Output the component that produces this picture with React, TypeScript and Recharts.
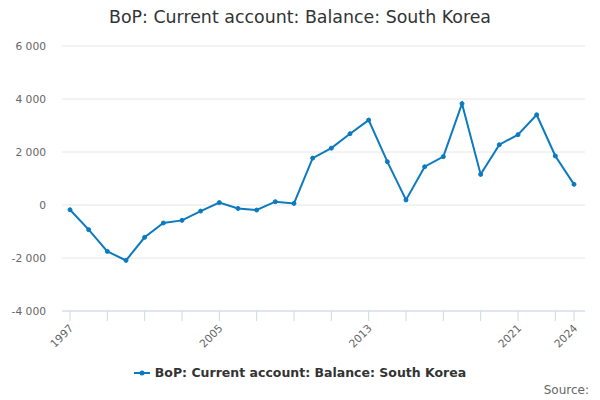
import { LineChart, Line, XAxis, YAxis, CartesianGrid, Legend } from 'recharts'

const years = [
  1997, 1998, 1999, 2000, 2001, 2002, 2003, 2004, 2005, 2006, 2007, 2008, 2009, 2010,
  2011, 2012, 2013, 2014, 2015, 2016, 2017, 2018, 2019, 2020, 2021, 2022, 2023, 2024,
]
const balance = [
  -180, -930, -1750, -2090, -1220, -680, -580, -230, 90, -130, -190, 125, 60, 1770,
  2145, 2690, 3205, 1635, 190, 1445, 1825, 3825, 1155, 2275, 2655, 3405, 1850, 780,
]
const xTicks = [1997, 1999, 2001, 2003, 2005, 2007, 2009, 2011, 2013, 2015, 2017, 2019, 2021, 2023, 2024]
const xLabels = [1997, 2005, 2013, 2021, 2024]
const yTicks = [-4000, -2000, 0, 2000, 4000, 6000]

const seriesName = 'BoP: Current account: Balance: South Korea'
const FONT = '"DejaVu Sans", Verdana, sans-serif'
const BLUE = '#0b7ac0'

const chartData = years.map((y, i) => ({ year: y, value: balance[i] }))

function formatThousands(v: number): string {
  const s = Math.abs(v).toString().replace(/\B(?=(\d{3})+(?!\d))/g, ' ')
  return v < 0 ? `-${s}` : s
}

function XTick({ x, y, payload }: any) {
  if (!xLabels.includes(payload.value)) return null
  const tx = x + 4
  const ty = y + 6
  return (
    <text
      x={tx}
      y={ty}
      transform={`rotate(-45 ${tx} ${ty})`}
      textAnchor='end'
      fill='#666'
      fontSize={10.7}
      fontFamily={FONT}
    >
      {payload.value}
    </text>
  )
}

function LegendContent() {
  return (
    <div
      style={{
        display: 'flex',
        justifyContent: 'center',
        alignItems: 'center',
        fontFamily: FONT,
        fontSize: 12.5,
        fontWeight: 'bold',
        color: '#333',
      }}
    >
      <svg width={16} height={10} style={{ marginRight: 5 }}>
        <line x1={0} y1={5} x2={16} y2={5} stroke={BLUE} strokeWidth={2} />
        <circle cx={8} cy={5} r={2.5} fill={BLUE} />
      </svg>
      {seriesName}
    </div>
  )
}

export default function App() {
  return (
    <div style={{ position: 'absolute', left: 0, top: 0, width: 600, height: 400, background: '#fff' }}>
      <div
        style={{
          position: 'absolute',
          left: 0,
          top: 7,
          width: 600,
          textAlign: 'center',
          fontFamily: FONT,
          fontSize: 17.4,
          color: '#333',
        }}
      >
        {seriesName}
      </div>
      <LineChart width={600} height={400} data={chartData} margin={{ top: 46, right: 15, left: 8, bottom: 49 }}>
        <CartesianGrid vertical={false} stroke='#e6e6e6' />
        <XAxis
          dataKey='year'
          type='number'
          domain={[1997, 2024]}
          ticks={xTicks}
          padding={{ left: 8, right: 11 }}
          height={40}
          tickSize={10}
          stroke='#ccd6eb'
          axisLine={{ stroke: '#ccd6eb' }}
          tickLine={{ stroke: '#ccd6eb' }}
          tick={<XTick />}
          interval={0}
        />
        <YAxis
          domain={[-4000, 6000]}
          ticks={yTicks}
          width={54}
          axisLine={false}
          tickLine={false}
          tickMargin={10}
          tick={{ fill: '#666', fontSize: 10.7, fontFamily: FONT }}
          tickFormatter={formatThousands}
        />
        <Legend
          verticalAlign='middle'
          align='center'
          layout='horizontal'
          wrapperStyle={{ top: 365, left: 0, width: 600 }}
          content={<LegendContent />}
        />
        <Line
          type='linear'
          dataKey='value'
          name={seriesName}
          stroke={BLUE}
          strokeWidth={2}
          dot={{ r: 2, fill: BLUE, stroke: BLUE, strokeWidth: 1 }}
          isAnimationActive={false}
        />
      </LineChart>
      <div
        style={{
          position: 'absolute',
          right: 11,
          top: 383,
          fontFamily: FONT,
          fontSize: 12,
          color: '#666',
        }}
      >
        Source:
      </div>
    </div>
  )
}
